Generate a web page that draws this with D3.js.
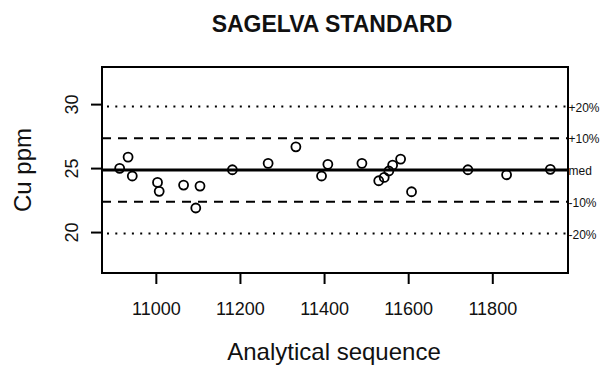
<!DOCTYPE html>
<html><head><meta charset="utf-8">
<script src="https://cdn.jsdelivr.net/npm/d3@7"></script>
<style>body{margin:0;background:#fff}svg{display:block;font-family:"Liberation Sans",Arial,sans-serif}</style>
</head><body><svg id="c" width="601" height="365"></svg>
<script>
const seqValues = [10914,10934,10944,11004,11008,11066,11105,11095,11182,11267,11333,11394,11409,11490,11530,11543,11554,11563,11582,11608,11742,11834,11938];
const cuValues  = [24.98,25.86,24.38,23.88,23.18,23.67,23.59,21.88,24.87,25.37,26.66,24.38,25.29,25.37,24.01,24.27,24.77,25.23,25.70,23.15,24.87,24.48,24.90];
const medianValue = 24.85;
const xTicks = [11000,11200,11400,11600,11800];
const yTicks = [20,25,30];
const refLevels = [1.2,1.1,1.0,0.9,0.8];
const refLabels = ["+20%","+10%","med","-10%","-20%"];
const refStyles = ["dot","dash","solid","dash","dot"];

const svg = d3.select("#c");
const L=102,R=568,T=67,B=273;
const FF = "Liberation Sans, Arial, sans-serif";
const x = d3.scaleLinear().domain([10872,11980]).range([L,R]);
const y = d3.scaleLinear().domain([16.8,32.9]).range([B,T]);

// reference lines
refLevels.forEach((f,i)=>{
  const st = refStyles[i];
  svg.append("line").attr("x1",L).attr("x2",R)
    .attr("y1",y(medianValue*f)).attr("y2",y(medianValue*f))
    .attr("stroke","#000")
    .attr("stroke-width", st==="solid"?3:2)
    .attr("stroke-dasharray", st==="dash"?"9,7":(st==="dot"?"2,6.3":null))
    .attr("stroke-dashoffset", st==="dot"?-5:0);
  svg.append("text").attr("x",R+0.5).attr("y",y(medianValue*f)+1).attr("dy","0.35em")
    .attr("font-size",12).attr("fill","#111").text(refLabels[i]);
});

// points
svg.append("g").selectAll("circle").data(seqValues).join("circle")
  .attr("cx",(d)=>x(d)).attr("cy",(d,i)=>y(cuValues[i])).attr("r",4.5)
  .attr("fill","none").attr("stroke","#000").attr("stroke-width",1.8);

// box
svg.append("rect").attr("x",L).attr("y",T).attr("width",R-L).attr("height",B-T)
  .attr("fill","none").attr("stroke","#000").attr("stroke-width",2);

// axes
const xa = svg.append("g").attr("transform",`translate(0,${B})`)
  .call(d3.axisBottom(x).tickValues(xTicks).tickSize(11).tickPadding(18).tickFormat(d3.format("d")));
xa.select(".domain").remove();
xa.selectAll("line").attr("stroke-width",2);
xa.selectAll("text").attr("font-size",18).attr("fill","#111").attr("font-family",FF);

const ya = svg.append("g").attr("transform",`translate(${L},0)`)
  .call(d3.axisLeft(y).tickValues(yTicks).tickSize(11).tickFormat(d3.format("d")));
ya.select(".domain").remove();
ya.selectAll("line").attr("stroke-width",2);
ya.selectAll("text").remove();
ya.selectAll(".tick").append("text").attr("transform","rotate(-90)").attr("x",0).attr("y",-24)
  .attr("text-anchor","middle").attr("font-size",18).attr("fill","#111")
  .attr("font-family",FF).text(d=>d);

// titles
svg.append("text").attr("x",332).attr("y",32).attr("text-anchor","middle")
  .attr("font-size",23).attr("font-weight","bold").attr("fill","#111").text("SAGELVA STANDARD");
svg.append("text").attr("x",334).attr("y",360).attr("text-anchor","middle")
  .attr("font-size",24).attr("fill","#111").text("Analytical sequence");
svg.append("text").attr("transform","translate(31,170) rotate(-90)").attr("text-anchor","middle")
  .attr("font-size",24).attr("fill","#111").text("Cu ppm");
</script></body></html>
